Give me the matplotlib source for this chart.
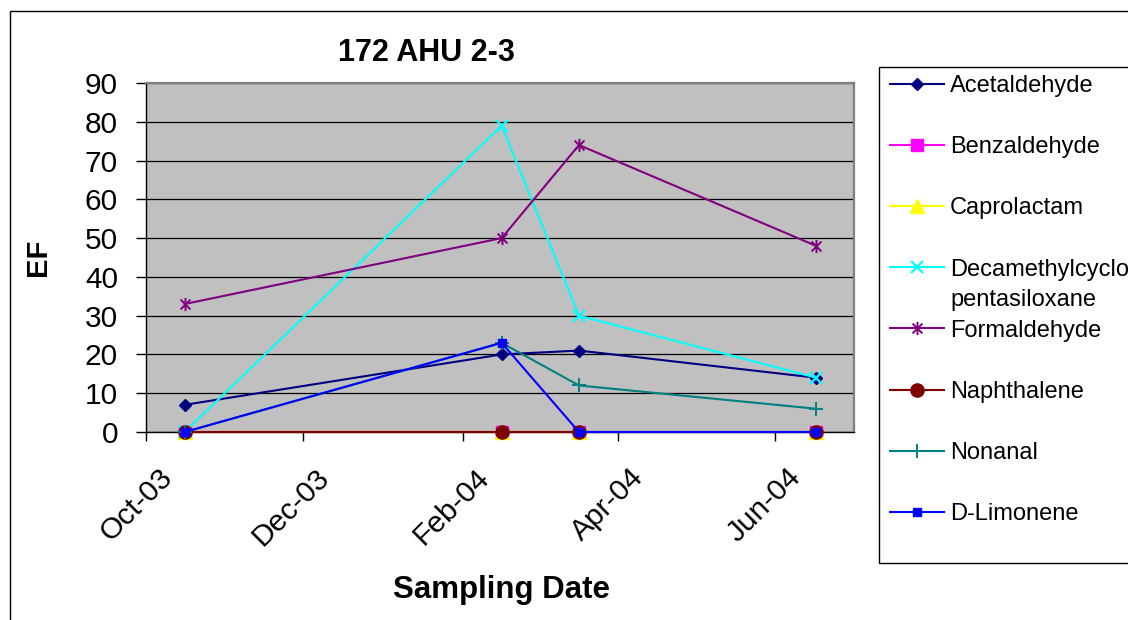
import matplotlib
matplotlib.use('Agg')
import matplotlib.pyplot as plt
import matplotlib.dates as mdates
from matplotlib.patches import Rectangle
from matplotlib.path import Path
from matplotlib.transforms import ScaledTranslation, IdentityTransform
from datetime import datetime

plt.rcParams['font.family'] = ['Liberation Sans', 'DejaVu Sans']

# ---------------- data ----------------
sample_dates = [datetime(2003, 10, 16), datetime(2004, 2, 16),
                datetime(2004, 3, 17), datetime(2004, 6, 17)]
acetaldehyde = [7, 20, 21, 14]
benzaldehyde = [0, 0, 0, 0]
caprolactam = [0, 0, 0, 0]
decamethylcyclopentasiloxane = [0, 79, 30, 14]
formaldehyde = [33, 50, 74, 48]
naphthalene = [0, 0, 0, 0]
nonanal = [0, 23, 12, 6]
d_limonene = [0, 23, 0, 0]

series_names = ['Acetaldehyde', 'Benzaldehyde', 'Caprolactam',
                'Decamethylcyclo', 'Formaldehyde', 'Naphthalene',
                'Nonanal', 'D-Limonene']
series_values = [acetaldehyde, benzaldehyde, caprolactam,
                 decamethylcyclopentasiloxane, formaldehyde, naphthalene,
                 nonanal, d_limonene]
name_second_line = 'pentasiloxane'

y_ticks = [0, 10, 20, 30, 40, 50, 60, 70, 80, 90]
x_tick_months = [10, 12, 2, 4, 6]
x_min = datetime(2003, 10, 1)
x_max = datetime(2004, 7, 1, 17)

title_text = '172 AHU 2-3'
x_label = 'Sampling Date'
y_label = 'EF'

# ---------------- styling ----------------
W, H = 1128, 620
fig = plt.figure(figsize=(W / 100, H / 100), dpi=100)
fig.patch.set_facecolor('white')


def fx(px):
    return px / W


def fy(py):
    return 1 - py / H


# outer chart border (extends past the image on right and bottom)
fig.patches.append(Rectangle((fx(9.5), -0.2), 1.5, fy(10.5) + 0.2,
                             transform=fig.transFigure, fill=False,
                             ec='black', lw=1.0, zorder=0))

L, R, T, B = 146, 854, 83, 432
ax = fig.add_axes([fx(L), fy(B), (R - L) / W, (B - T) / H])
ax.set_facecolor('#C0C0C0')

star_path = Path([(0, -1), (0, 1), (-0.75, -0.75), (0.75, 0.75),
                  (-0.75, 0.75), (0.75, -0.75)],
                 [Path.MOVETO, Path.LINETO, Path.MOVETO, Path.LINETO,
                  Path.MOVETO, Path.LINETO])

styles = [
    dict(color='#000080', marker='D', ms=6.5),
    dict(color='#FF00FF', marker='s', ms=8),
    dict(color='#FFFF00', marker='^', ms=9.5),
    dict(color='#00FFFF', marker='x', ms=9, mew=1.6),
    dict(color='#800080', marker=star_path, ms=9.5, mew=1.4, mfc='none'),
    dict(color='#800000', marker='o', ms=9.5),
    dict(color='#008080', marker='+', ms=10, mew=1.4),
    dict(color='#0000FF', marker='s', ms=5.5),
]

handles = []
for name, vals, st in zip(series_names, series_values, styles):
    ln, = ax.plot(sample_dates, vals, lw=1.5, clip_on=False, label=name,
                  zorder=3, **st)
    handles.append(ln)

ax.set_xlim(x_min, x_max)
ax.set_ylim(y_ticks[0], y_ticks[-1])
ax.set_yticks(y_ticks)
ax.xaxis.set_major_locator(mdates.MonthLocator(bymonth=x_tick_months))
ax.xaxis.set_major_formatter(mdates.DateFormatter('%b-%y'))

ax.yaxis.grid(True, color='black', lw=0.9)
ax.set_axisbelow(True)

for s in ['left', 'bottom']:
    ax.spines[s].set_color('black')
    ax.spines[s].set_linewidth(1.0)
for s in ['top', 'right']:
    ax.spines[s].set_color('#808080')
    ax.spines[s].set_linewidth(1.6)

ax.tick_params(axis='y', length=7.2, width=1, pad=13, labelsize=21.5,
               direction='out', colors='black')
ax.tick_params(axis='x', length=6.5, width=1, pad=23, labelsize=21.5,
               direction='out', colors='black')

ax.set_xlabel(x_label, fontsize=22.5, fontweight='bold', va='baseline')
ax.xaxis.set_label_coords((501.5 - L) / (R - L), (B - 598) / (B - T))
ax.set_ylabel(y_label, fontsize=21, fontweight='bold', rotation=90,
              rotation_mode='anchor', ha='center', va='baseline')
ax.yaxis.set_label_coords((46 - L) / (R - L), (B - 257.5) / (B - T))

fig.text(fx(426.7), fy(61), title_text, ha='center', va='baseline',
         fontsize=22, fontweight='bold')

# legend box
fig.patches.append(Rectangle((fx(878.5), fy(563)), 1.0, (563 - 67) / H,
                             transform=fig.transFigure, fill=False,
                             ec='black', lw=1.0, zorder=1))

leg = fig.legend(handles, series_names, loc='upper left',
                 bbox_to_anchor=(fx(890), fy(75.3)),
                 bbox_transform=fig.transFigure, frameon=False,
                 fontsize=17, handlelength=2.29, handletextpad=0.25,
                 labelspacing=1.656, borderpad=0, borderaxespad=0)

fig.canvas.draw()
renderer = fig.canvas.get_renderer()

# rotated date tick labels
off = ScaledTranslation(22 / 100, 0, fig.dpi_scale_trans)
for tick in ax.xaxis.get_major_ticks():
    lab = tick.label1
    lab.set_rotation(45)
    lab.set_rotation_mode('anchor')
    lab.set_ha('right')
    lab.set_va('center')
    lab.set_transform(lab.get_transform() + off)

# second line of the wrapped legend entry
bb = leg.get_texts()[3].get_window_extent(renderer)
fig.text(bb.x0, bb.y0 - 30, name_second_line, transform=IdentityTransform(),
         fontsize=17, ha='left', va='bottom')

fig.savefig('out.png', dpi=100)
